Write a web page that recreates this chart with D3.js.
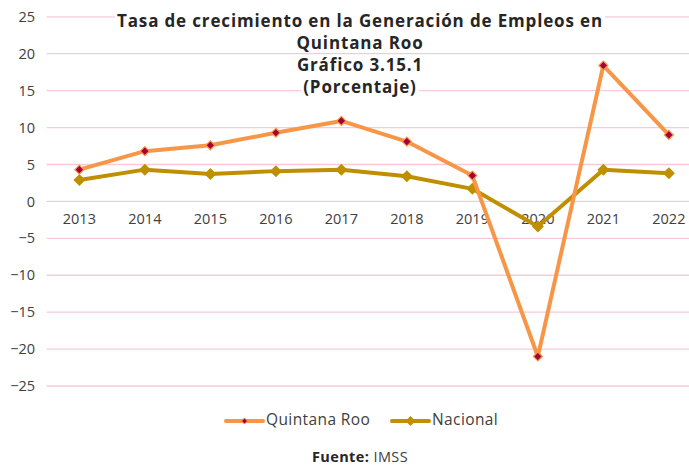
<!DOCTYPE html>
<html>
<head>
<meta charset="utf-8">
<script src="https://cdn.jsdelivr.net/npm/d3@7"></script>
<style>
  html, body { margin: 0; padding: 0; background: #fff; overflow: hidden; }
  svg { display: block; font-family: "Open Sans", "Noto Sans", sans-serif; }
</style>
</head>
<body>
<svg id="chart" width="689" height="465"></svg>
<script>
// Employment growth rate, Quintana Roo vs national (percent)
const years = ["2013", "2014", "2015", "2016", "2017", "2018", "2019", "2020", "2021", "2022"];
const quintanaRoo = [4.3, 6.8, 7.6, 9.3, 10.9, 8.1, 3.5, -21.0, 18.4, 9.0];
const nacional = [2.9, 4.3, 3.7, 4.1, 4.3, 3.4, 1.7, -3.4, 4.3, 3.8];
const yTicks = [25, 20, 15, 10, 5, 0, -5, -10, -15, -20, -25];
const titleLines = [
  "Tasa de crecimiento en la Generación de Empleos en",
  "Quintana Roo",
  "Gráfico 3.15.1",
  "(Porcentaje)"
];
const seriesNames = ["Quintana Roo", "Nacional"];

const svg = d3.select("#chart");

const x = d3.scaleBand().domain(years).range([46.6, 701.6]).padding(0);
const y = d3.scaleLinear().domain([-25, 25]).range([386, 16.8]);

// horizontal gridlines
svg.append("g").selectAll("line")
  .data(yTicks.filter(d => d !== 0))
  .join("line")
  .attr("x1", 46.6).attr("x2", 701.6)
  .attr("y1", d => y(d)).attr("y2", d => y(d))
  .attr("stroke", "#f9c9d9").attr("stroke-width", 1.3);

// zero line
svg.append("line")
  .attr("x1", 46.6).attr("x2", 701.6)
  .attr("y1", y(0)).attr("y2", y(0))
  .attr("stroke", "#d9d9d9").attr("stroke-width", 1.3);

// y axis labels
const yAxis = d3.axisLeft(y).tickValues(yTicks).tickSize(0).tickPadding(0);
const gy = svg.append("g").attr("transform", "translate(35,0)").call(yAxis);
gy.select(".domain").remove();
gy.selectAll("text")
  .attr("font-family", "Open Sans, sans-serif")
  .attr("font-size", 14.5).attr("fill", "#404040");

// x axis labels just below the zero line
const xAxis = d3.axisBottom(x).tickSize(0).tickPadding(0);
const gx = svg.append("g").attr("transform", `translate(0,${y(0) + 12})`).call(xAxis);
gx.select(".domain").remove();
gx.selectAll("text")
  .attr("font-family", "Open Sans, sans-serif")
  .attr("font-size", 14.5).attr("fill", "#404040");

// title, each line on its own white band
const titleG = svg.append("g");
titleLines.forEach((t, i) => {
  const ty = 22 + i * 22;
  const txt = titleG.append("text")
    .attr("x", 360).attr("y", ty)
    .attr("text-anchor", "middle").attr("dominant-baseline", "middle")
    .attr("font-family", "Open Sans, sans-serif")
    .attr("font-weight", 700).attr("font-size", 17)
    .attr("letter-spacing", 0.85)
    .attr("fill", "#262626").text(t);
  const bb = txt.node().getBBox();
  titleG.insert("rect", "text")
    .attr("x", bb.x - 2).attr("y", bb.y + 3)
    .attr("width", bb.width + 4).attr("height", bb.height - 6)
    .attr("fill", "#fff");
});

const cx = d => x(d) + x.bandwidth() / 2;
const line = d3.line().x((d, i) => cx(years[i])).y(d => y(d));
const diamond = s => `M0,${-s}L${s},0L0,${s}L${-s},0Z`;

// Nacional series
svg.append("path").datum(nacional)
  .attr("d", line).attr("fill", "none")
  .attr("stroke", "#bf8f00").attr("stroke-width", 4).attr("stroke-linejoin", "round");
svg.append("g").selectAll("path").data(nacional).join("path")
  .attr("transform", (d, i) => `translate(${cx(years[i])},${y(d)})`)
  .attr("d", diamond(6)).attr("fill", "#bf8f00");

// Quintana Roo series
svg.append("path").datum(quintanaRoo)
  .attr("d", line).attr("fill", "none")
  .attr("stroke", "#f79646").attr("stroke-width", 4).attr("stroke-linejoin", "round");
svg.append("g").selectAll("path").data(quintanaRoo).join("path")
  .attr("transform", (d, i) => `translate(${cx(years[i])},${y(d)})`)
  .attr("d", diamond(4.5)).attr("fill", "#a5003a")
  .attr("stroke", "#f79646").attr("stroke-width", 1.2);

// legend
const legend = [
  { name: seriesNames[0], x0: 226, color: "#f79646", mark: "#a5003a", ms: 3, stroke: "#f79646" },
  { name: seriesNames[1], x0: 392, color: "#bf8f00", mark: "#bf8f00", ms: 5, stroke: "none" }
];
const lg = svg.append("g");
legend.forEach(l => {
  lg.append("line").attr("x1", l.x0).attr("x2", l.x0 + 37)
    .attr("y1", 421).attr("y2", 421)
    .attr("stroke", l.color).attr("stroke-width", 4).attr("stroke-linecap", "round");
  lg.append("path").attr("transform", `translate(${l.x0 + 18.5},421)`)
    .attr("d", diamond(l.ms)).attr("fill", l.mark).attr("stroke", l.stroke).attr("stroke-width", 1);
  lg.append("text").attr("x", l.x0 + 40).attr("y", 421)
    .attr("dominant-baseline", "middle")
    .attr("font-family", "Open Sans, sans-serif").attr("font-size", 15.5)
    .attr("letter-spacing", 0.4)
    .attr("fill", "#404040").text(l.name);
});

// source note
const src = svg.append("text").attr("x", 360).attr("y", 458)
  .attr("text-anchor", "middle").attr("dominant-baseline", "middle")
  .attr("font-family", "Open Sans, sans-serif").attr("font-size", 14.5)
  .attr("letter-spacing", 0.4).attr("fill", "#262626");
src.append("tspan").attr("font-weight", 700).text("Fuente:");
src.append("tspan").attr("fill", "#404040").text(" IMSS");
</script>
</body>
</html>
